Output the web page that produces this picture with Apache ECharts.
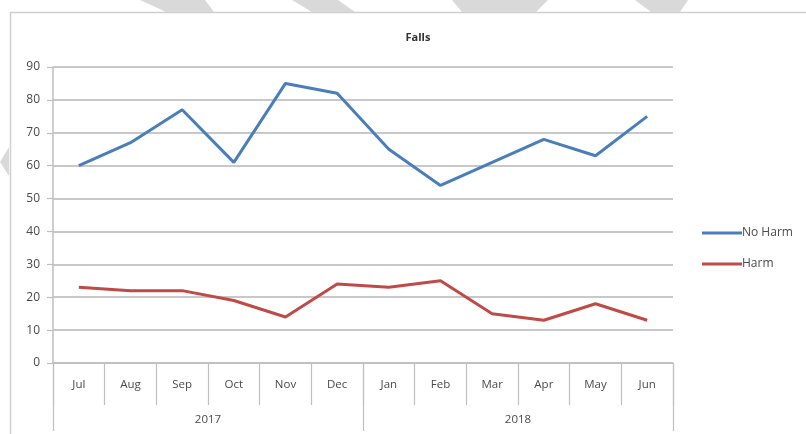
<!DOCTYPE html>
<html>
<head>
<meta charset="utf-8">
<style>
  html, body { margin: 0; padding: 0; background: #ffffff; }
  #chart { width: 806px; height: 434px; }
</style>
<script src="https://cdn.jsdelivr.net/npm/echarts@6/dist/echarts.min.js"></script>
</head>
<body>
<div id="chart"></div>
<script>
// Monthly falls, July 2017 to June 2018
const months = ['Jul', 'Aug', 'Sep', 'Oct', 'Nov', 'Dec', 'Jan', 'Feb', 'Mar', 'Apr', 'May', 'Jun'];
const years = ['2017', '2018'];
const noHarm = [60, 67, 77, 61, 85, 82, 65, 54, 61, 68, 63, 75];
const harm = [23, 22, 22, 19, 14, 24, 23, 25, 15, 13, 18, 13];
const yTicks = { min: 0, max: 90, step: 10 };

const chart = echarts.init(document.getElementById('chart'), null, { renderer: 'canvas' });

const FONT = 'Open Sans';
const TEXT = '#4a4a4a';
const LINE_GREY = '#bfbfbf';

chart.setOption({
  backgroundColor: '#ffffff',
  animation: false,
  title: {
    text: 'Falls',
    left: 413,
    top: 27,
    textAlign: 'center',
    textStyle: { fontFamily: FONT, fontSize: 11, fontWeight: 'bold', color: '#333333' }
  },
  legend: {
    orient: 'vertical',
    left: 697,
    top: 222,
    itemGap: 19,
    itemWidth: 40,
    itemHeight: 3,
    icon: 'rect',
    textStyle: { fontFamily: FONT, fontSize: 12, color: TEXT, padding: [0, 0, 0, -5] },
    data: ['No Harm', 'Harm']
  },
  grid: { left: 53, right: 133, top: 67, bottom: 71, containLabel: false },
  xAxis: [
    {
      type: 'category',
      data: months,
      boundaryGap: true,
      position: 'bottom',
      axisLine: { show: true, lineStyle: { color: LINE_GREY, width: 1.5 } },
      axisTick: { show: true, interval: 0, length: 42, lineStyle: { color: LINE_GREY, width: 1.2 } },
      axisLabel: { interval: 0, margin: 16, fontFamily: FONT, fontSize: 11.5, color: TEXT }
    },
    {
      type: 'category',
      data: years,
      boundaryGap: true,
      position: 'bottom',
      axisLine: { show: false },
      axisTick: { show: true, interval: 0, length: 68, lineStyle: { color: LINE_GREY, width: 1.2 } },
      axisLabel: { interval: 0, margin: 51, fontFamily: FONT, fontSize: 11.5, color: TEXT },
      splitLine: { show: false }
    }
  ],
  yAxis: {
    type: 'value',
    min: yTicks.min,
    max: yTicks.max,
    interval: yTicks.step,
    axisLine: { show: true, lineStyle: { color: LINE_GREY, width: 1.5 } },
    axisTick: { show: true, length: 6, lineStyle: { color: LINE_GREY, width: 1.2 } },
    axisLabel: { margin: 13, fontFamily: FONT, fontSize: 12, color: TEXT },
    splitLine: { show: true, lineStyle: { color: '#c8c8c8', width: 2 } }
  },
  series: [
    {
      name: 'No Harm',
      type: 'line',
      xAxisIndex: 0,
      data: noHarm,
      symbol: 'none',
      lineStyle: { color: '#4a7ebb', width: 3 },
      itemStyle: { color: '#4a7ebb' }
    },
    {
      name: 'Harm',
      type: 'line',
      xAxisIndex: 0,
      data: harm,
      symbol: 'none',
      lineStyle: { color: '#be4b48', width: 3 },
      itemStyle: { color: '#be4b48' }
    }
  ],
  graphic: [
    // chart frame
    {
      type: 'rect',
      shape: { x: 10.5, y: 12.5, width: 820, height: 440 },
      style: { fill: null, stroke: '#cfcfcf', lineWidth: 1.5 },
      silent: true
    },
    // grey bands along the top edge
    { type: 'polygon', shape: { points: [[140, 0], [205, 0], [214, 12], [166, 12]] }, style: { fill: '#d9d9d9' }, silent: true },
    { type: 'polygon', shape: { points: [[292, 0], [338, 0], [355, 12], [312, 12]] }, style: { fill: '#d9d9d9' }, silent: true },
    { type: 'polygon', shape: { points: [[452, 0], [548, 0], [536, 12], [462, 12]] }, style: { fill: '#d9d9d9' }, silent: true },
    { type: 'polygon', shape: { points: [[635, 0], [688, 0], [680, 12], [651, 12]] }, style: { fill: '#d9d9d9' }, silent: true },
    { type: 'polygon', shape: { points: [[9, 147], [9, 176], [0, 162]] }, style: { fill: '#d9d9d9' }, silent: true }
  ]
});
</script>
</body>
</html>
